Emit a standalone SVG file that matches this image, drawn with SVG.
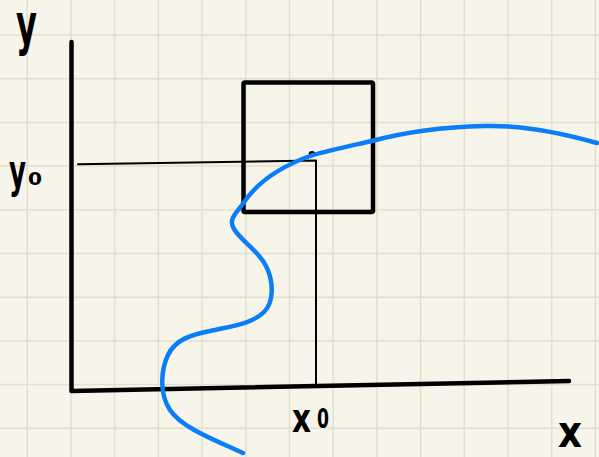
<svg xmlns="http://www.w3.org/2000/svg" width="599" height="457" viewBox="0 0 599 457">
<style>
.grid line{stroke:#e2dfd1;stroke-width:1.5}
.ink{stroke:#000;fill:none;stroke-linecap:round;stroke-linejoin:round}
.lbl{font-family:"DejaVu Sans",sans-serif;font-weight:bold;fill:#000}
</style>
<rect width="599" height="457" fill="#f7f5e9"/>
<g class="grid" id="grid">
<line x1="27.3" y1="0" x2="27.3" y2="457"/>
<line x1="71" y1="0" x2="71" y2="457"/>
<line x1="114.7" y1="0" x2="114.7" y2="457"/>
<line x1="158.4" y1="0" x2="158.4" y2="457"/>
<line x1="202.1" y1="0" x2="202.1" y2="457"/>
<line x1="245.8" y1="0" x2="245.8" y2="457"/>
<line x1="289.5" y1="0" x2="289.5" y2="457"/>
<line x1="333.2" y1="0" x2="333.2" y2="457"/>
<line x1="376.9" y1="0" x2="376.9" y2="457"/>
<line x1="420.6" y1="0" x2="420.6" y2="457"/>
<line x1="464.3" y1="0" x2="464.3" y2="457"/>
<line x1="508" y1="0" x2="508" y2="457"/>
<line x1="551.7" y1="0" x2="551.7" y2="457"/>
<line x1="595.4" y1="0" x2="595.4" y2="457"/>
<line x1="0" y1="35" x2="599" y2="35"/>
<line x1="0" y1="78.7" x2="599" y2="78.7"/>
<line x1="0" y1="122.4" x2="599" y2="122.4"/>
<line x1="0" y1="166.1" x2="599" y2="166.1"/>
<line x1="0" y1="209.8" x2="599" y2="209.8"/>
<line x1="0" y1="253.5" x2="599" y2="253.5"/>
<line x1="0" y1="297.2" x2="599" y2="297.2"/>
<line x1="0" y1="340.9" x2="599" y2="340.9"/>
<line x1="0" y1="384.6" x2="599" y2="384.6"/>
<line x1="0" y1="428.3" x2="599" y2="428.3"/>
</g>
<g id="axes" class="ink">
<path d="M71.5 42 L71.5 391 L569 381" stroke-width="4.5" stroke-linecap="round"/>
</g>
<g id="box" class="ink">
<rect x="243.5" y="82.5" width="129.5" height="129.5" stroke-width="4.5" rx="1.5"/>
</g>
<g id="guides" class="ink">
<path d="M78 164.3 L316 160.5 L316 386" stroke-width="2"/>
<ellipse cx="312" cy="153.5" rx="3.2" ry="2.6" fill="#000" stroke="none"/>
</g>
<g id="curve">
<path d="M597 143 C555 131 520 125 485 126 C445 127 405 132 372 141 C350 146 330 150 310 156 C285 165 258 180 242 205 C236 213 228 220 234 229 C242 242 258 250 266 266 C274 282 274 302 264 312 C252 324 232 326 210 331 C190 335 175 340 168 355 C160 372 160 395 170 410 C182 428 215 440 243 453" fill="none" stroke="#0a7ef6" stroke-width="4.5" stroke-linecap="round" stroke-linejoin="round"/>
</g>
<g id="labels">
<text class="lbl" transform="translate(16,44) scale(1,1.2)" x="0" y="0" font-size="48" textLength="21" lengthAdjust="spacingAndGlyphs">y</text>
<text class="lbl" font-size="46"><tspan x="9" y="187" textLength="17" lengthAdjust="spacingAndGlyphs">y</tspan><tspan x="28" y="185" font-size="18" textLength="14" lengthAdjust="spacingAndGlyphs">0</tspan></text>
<text class="lbl" font-size="40"><tspan x="292" y="432" textLength="19" lengthAdjust="spacingAndGlyphs">x</tspan><tspan x="317" y="428" font-size="26" textLength="12" lengthAdjust="spacingAndGlyphs">0</tspan></text>
<text class="lbl" x="558" y="447" font-size="44" textLength="24" lengthAdjust="spacingAndGlyphs">x</text>
</g>
</svg>
